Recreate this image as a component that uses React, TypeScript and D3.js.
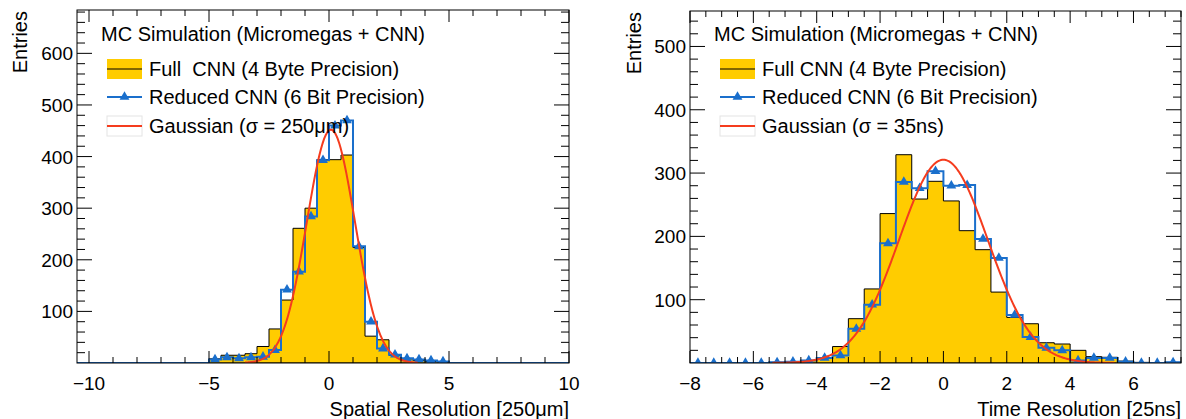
import React, { useEffect, useRef } from 'react';
import * as d3 from 'd3';

// bin contents, 0.5 wide bins starting at the left edge of each x range
const spatialFull = [
  0, 0, 0, 0, 0, 0, 0, 0, 0, 0, 0,
  8, 15, 15, 18, 32, 66, 122, 261, 300, 394, 394, 403, 224, 52, 45, 15, 8, 5, 3, 2,
  0, 0, 0, 0, 0, 0, 0, 0, 0, 0,
];
const spatialReduced = [
  0, 0, 0, 0, 0, 0, 0, 0, 0, 0, 0,
  7, 11, 9, 11, 12, 25, 142, 177, 284, 393, 460, 470, 226, 80, 28, 16, 9, 7, 5, 3,
  0, 0, 0, 0, 0, 0, 0, 0, 0, 0,
];
const timeFull = [
  0, 0, 0, 0, 0, 1, 2, 4, 8, 26, 70, 117, 236, 329, 259, 287,
  256, 209, 179, 112, 72, 62, 32, 30, 20, 10, 9, 3, 1, 0, 1,
];
const timeReduced = [
  0, 0, 0, 0, 0, 1, 2, 4, 8, 12, 54, 92, 189, 286, 276, 303,
  280, 281, 196, 166, 76, 41, 24, 20, 4, 8, 8, 2, 0, 0, 1,
];

const spatialTicks = [-10, -5, 0, 5, 10];
const timeTicks = [-8, -6, -4, -2, 0, 2, 4, 6];
const spatialEntryTicks = [100, 200, 300, 400, 500, 600];
const timeEntryTicks = [100, 200, 300, 400, 500];

const legendTitle = 'MC Simulation (Micromegas + CNN)';
const spatialLegend = ['Full  CNN (4 Byte Precision)', 'Reduced CNN (6 Bit Precision)', 'Gaussian (σ = 250μm)'];
const timeLegend = ['Full CNN (4 Byte Precision)', 'Reduced CNN (6 Bit Precision)', 'Gaussian (σ = 35ns)'];

// gaussian: mean, sigma, amplitude, drawn range
const spatialGauss = [0.08, 1.0, 452, -3.5, 3.7];
const timeGauss = [0.0, 1.4, 321, -5.4, 5.4];

const YELLOW = '#ffcc00';
const BLUE = '#1a6fcc';
const RED = '#f53c1e';
const FONT = '"Liberation Sans", Arial, Helvetica, sans-serif';

const panels = [
  {
    left: 77, right: 569, top: 10, bottom: 363,
    xDomain: [-10.5, 10], yMax: 684, binStart: -10.5, binWidth: 0.5,
    full: spatialFull, reduced: spatialReduced, gauss: spatialGauss,
    xTicks: spatialTicks, xMinor: 1, yTicks: spatialEntryTicks,
    legend: spatialLegend, xTitle: 'Spatial Resolution [250μm]', titleX: 20,
    emptyMarkers: false,
  },
  {
    left: 690, right: 1181, top: 11, bottom: 363,
    xDomain: [-8, 7.5], yMax: 556, binStart: -8, binWidth: 0.5,
    full: timeFull, reduced: timeReduced, gauss: timeGauss,
    xTicks: timeTicks, xMinor: 0.5, yTicks: timeEntryTicks,
    legend: timeLegend, xTitle: 'Time Resolution [25ns]', titleX: 634,
    emptyMarkers: true,
  },
];

const fmt = (v) => (v < 0 ? '\u2212' + Math.abs(v) : String(v));

function drawPanel(svg, p, idx) {
  const x = d3.scaleLinear().domain(p.xDomain).range([p.left, p.right]);
  const y = d3.scaleLinear().domain([0, p.yMax]).range([p.bottom, p.top]);
  const g = svg.append('g');

  const clipId = `clip${idx}`;
  svg.append('clipPath').attr('id', clipId)
    .append('rect')
    .attr('x', p.left).attr('y', p.top)
    .attr('width', p.right - p.left).attr('height', p.bottom - p.top);

  const plot = g.append('g').attr('clip-path', `url(#${clipId})`);

  const stepPath = (vals) => {
    const path = d3.path();
    path.moveTo(x(p.binStart), y(0));
    vals.forEach((v, i) => {
      const e0 = p.binStart + i * p.binWidth;
      path.lineTo(x(e0), y(v));
      path.lineTo(x(e0 + p.binWidth), y(v));
    });
    path.lineTo(x(p.binStart + vals.length * p.binWidth), y(0));
    return path.toString();
  };

  // full precision histogram
  plot.append('path')
    .attr('d', stepPath(p.full) + 'Z')
    .attr('fill', YELLOW)
    .attr('stroke', '#000')
    .attr('stroke-width', 1);

  // reduced precision histogram
  plot.append('path')
    .attr('d', stepPath(p.reduced))
    .attr('fill', 'none')
    .attr('stroke', BLUE)
    .attr('stroke-width', 2);

  const tri = d3.symbol(d3.symbolTriangle, 42);
  p.reduced.forEach((v, i) => {
    if (!p.emptyMarkers && v <= 0) return;
    const c = p.binStart + (i + 0.5) * p.binWidth;
    plot.append('path')
      .attr('d', tri())
      .attr('transform', `translate(${x(c)},${y(v)})`)
      .attr('fill', BLUE);
  });

  // gaussian
  const [mu, sigma, amp, from, to] = p.gauss;
  const xs = d3.range(from, to + 1e-9, (to - from) / 300);
  const line = d3.line()
    .x((d) => x(d))
    .y((d) => y(amp * Math.exp(-0.5 * ((d - mu) / sigma) ** 2)));
  plot.append('path')
    .attr('d', line(xs))
    .attr('fill', 'none')
    .attr('stroke', RED)
    .attr('stroke-width', 2);

  // frame
  g.append('rect')
    .attr('x', p.left).attr('y', p.top)
    .attr('width', p.right - p.left).attr('height', p.bottom - p.top)
    .attr('fill', 'none').attr('stroke', '#000').attr('stroke-width', 1);

  // ticks on all four sides
  const ticks = g.append('g').attr('stroke', '#000').attr('stroke-width', 1);
  const minorX = d3.range(Math.ceil(p.xDomain[0] / p.xMinor) * p.xMinor, p.xDomain[1] + 1e-9, p.xMinor);
  minorX.forEach((t) => {
    const major = p.xTicks.some((m) => Math.abs(m - t) < 1e-9);
    const len = major ? 12 : 6;
    ticks.append('line').attr('x1', x(t)).attr('x2', x(t)).attr('y1', p.bottom).attr('y2', p.bottom - len);
    ticks.append('line').attr('x1', x(t)).attr('x2', x(t)).attr('y1', p.top).attr('y2', p.top + len);
  });

  const minorY = d3.range(20, p.yMax, 20);
  minorY.forEach((t) => {
    const major = t % 100 === 0;
    const len = major ? 15 : 8;
    ticks.append('line').attr('x1', p.left).attr('x2', p.left + len).attr('y1', y(t)).attr('y2', y(t));
    ticks.append('line').attr('x1', p.right).attr('x2', p.right - len).attr('y1', y(t)).attr('y2', y(t));
  });

  const text = g.append('g').attr('font-family', FONT).attr('fill', '#000');

  p.xTicks.forEach((t) => {
    text.append('text')
      .attr('x', x(t)).attr('y', 390)
      .attr('text-anchor', 'middle')
      .attr('font-size', 19)
      .text(fmt(t));
  });

  p.yTicks.forEach((t) => {
    text.append('text')
      .attr('x', p.left - 4).attr('y', y(t) + 7)
      .attr('text-anchor', 'end')
      .attr('font-size', 19)
      .text(t);
  });

  text.append('text')
    .attr('x', p.right).attr('y', 416)
    .attr('text-anchor', 'end')
    .attr('font-size', 20)
    .text(p.xTitle);

  text.append('text')
    .attr('transform', `translate(${p.titleX + 7},${p.top + 1}) rotate(-90)`)
    .attr('text-anchor', 'end')
    .attr('font-size', 20)
    .text('Entries');

  // legend
  const lg = g.append('g');
  lg.append('text')
    .attr('x', p.left + 24).attr('y', 41)
    .attr('font-family', FONT).attr('font-size', 20)
    .text(legendTitle);

  const rowY = [69, 97, 126];
  const bx0 = p.left + 30;
  const bx1 = p.left + 65;

  lg.append('rect')
    .attr('x', bx0).attr('y', rowY[0] - 10)
    .attr('width', bx1 - bx0).attr('height', 20)
    .attr('fill', YELLOW);
  lg.append('line')
    .attr('x1', bx0).attr('x2', bx1).attr('y1', rowY[0]).attr('y2', rowY[0])
    .attr('stroke', '#000').attr('stroke-width', 1);

  lg.append('line')
    .attr('x1', bx0).attr('x2', bx1).attr('y1', rowY[1]).attr('y2', rowY[1])
    .attr('stroke', BLUE).attr('stroke-width', 2);
  lg.append('path')
    .attr('d', tri())
    .attr('transform', `translate(${(bx0 + bx1) / 2},${rowY[1]})`)
    .attr('fill', BLUE);

  lg.append('rect')
    .attr('x', bx0).attr('y', rowY[2] - 10)
    .attr('width', bx1 - bx0).attr('height', 20)
    .attr('fill', '#fff').attr('stroke', '#e4e4e4').attr('stroke-width', 1);
  lg.append('line')
    .attr('x1', bx0).attr('x2', bx1).attr('y1', rowY[2]).attr('y2', rowY[2])
    .attr('stroke', RED).attr('stroke-width', 2);

  p.legend.forEach((label, i) => {
    lg.append('text')
      .attr('x', p.left + 72).attr('y', rowY[i] + 7)
      .attr('font-family', FONT).attr('font-size', 20)
      .style('white-space', 'pre')
      .text(label);
  });
}

export default function App() {
  const svgRef = useRef(null);

  useEffect(() => {
    if (!svgRef.current) return;
    const svg = d3.select(svgRef.current);
    svg.selectAll('*').remove();
    panels.forEach((p, i) => drawPanel(svg, p, i));
  }, []);

  return (
    <svg
      ref={svgRef}
      width={1186}
      height={419}
      style={{ position: 'absolute', left: 0, top: 0, background: '#fff' }}
    />
  );
}
